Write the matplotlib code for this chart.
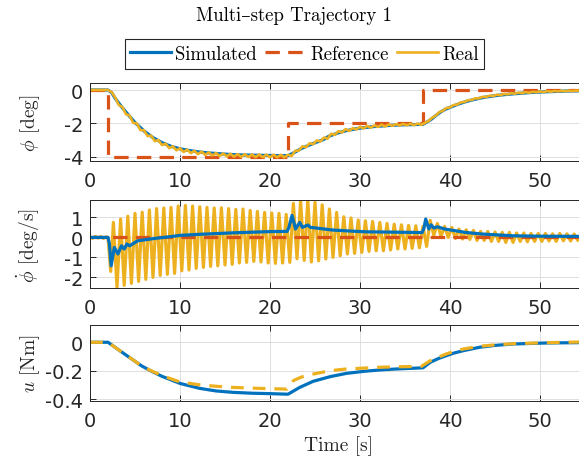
import numpy as np
import matplotlib
matplotlib.use("Agg")
import matplotlib.pyplot as plt
from matplotlib.lines import Line2D

plt.rcParams["mathtext.fontset"] = "cm"
plt.rcParams["axes.unicode_minus"] = False
plt.rcParams["font.family"] = "DejaVu Sans"

SERIF = ["cmr10", "DejaVu Serif"]
C_SIM = "#0072BD"
C_REF = "#D95319"
C_REAL = "#EDB120"
INK = "#262626"

# ---------------- roll angle phi [deg] ----------------
ref_t = [0, 2, 2, 22, 22, 37, 37, 55]
ref_phi = [0, 0, -4, -4, -2, -2, 0, 0]

sim_phi_t = [0, 2.0, 2.4, 2.8, 3.5, 4.2, 5.0, 6.0, 7.0, 8.0, 9.0, 10.0, 11.0, 12.0,
             13.0, 14.0, 15.0, 16.0, 17.0, 18.0, 19.0, 20.0, 21.0, 22.0,
             22.5, 23.0, 23.5, 24.0, 24.5, 25.0, 25.5, 26.0, 26.5, 27.0, 27.5,
             28.0, 28.5, 29.0, 29.5, 30.0, 30.5, 31.0, 31.5, 32.0, 33.0, 34.0,
             35.0, 36.0, 37.0, 37.5, 38.0, 38.5, 39.0, 39.5, 40.0, 40.5, 41.0,
             41.5, 42.0, 42.5, 43.0, 43.5, 44.0, 44.5, 45.0, 46.0, 47.0, 48.0,
             49.0, 50.0, 51.0, 52.0, 53.0, 54.0, 55.0]
sim_phi = [0, 0, -0.15, -0.5, -1.0, -1.45, -1.95, -2.45, -2.85, -3.15, -3.37, -3.52,
           -3.62, -3.7, -3.76, -3.8, -3.84, -3.87, -3.89, -3.9, -3.91, -3.92, -3.93,
           -3.93, -3.8, -3.65, -3.5, -3.38, -3.27, -3.16, -3.06, -2.95, -2.78,
           -2.68, -2.58, -2.5, -2.43, -2.38, -2.33, -2.28, -2.25, -2.22, -2.19,
           -2.17, -2.13, -2.1, -2.08, -2.07, -2.05, -1.9, -1.72, -1.5, -1.3,
           -1.15, -1.04, -0.93, -0.83, -0.74, -0.66, -0.59, -0.53, -0.47, -0.42,
           -0.38, -0.34, -0.28, -0.23, -0.19, -0.15, -0.12, -0.1, -0.08, -0.06,
           -0.05, -0.04]

# measured oscillation: one cycle every 0.8 s starting at t = 2.6 s
cycle_t = np.arange(66) * 0.8 + 2.6

real_phi_pre_t = [0, 2.0, 2.4]
real_phi_pre = [0, 0, -0.12]
real_phi_max = [-0.45, -1.02, -1.53, -2.0, -2.41, -2.73, -3.0, -3.21, -3.37, -3.49,
                -3.57, -3.64, -3.69, -3.74, -3.77, -3.8, -3.82, -3.84, -3.85, -3.86,
                -3.86, -3.87, -3.87, -3.88, -3.88, -3.64, -3.37, -3.19, -3.02, -2.85,
                -2.62, -2.47, -2.34, -2.28, -2.2, -2.15, -2.12, -2.08, -2.06, -2.04,
                -2.03, -2.02, -2.01, -1.97, -1.67, -1.33, -1.08, -0.9, -0.74, -0.61,
                -0.5, -0.41, -0.34, -0.28, -0.23, -0.19, -0.16, -0.13, -0.11, -0.09,
                -0.07, -0.06, -0.05, -0.04, -0.03, -0.02]
real_phi_min = [-0.9, -1.45, -1.97, -2.4, -2.76, -3.06, -3.3, -3.48, -3.61, -3.71,
                -3.78, -3.84, -3.88, -3.92, -3.95, -3.97, -3.99, -4.0, -4.01, -4.02,
                -4.02, -4.03, -4.03, -4.03, -3.95, -3.63, -3.42, -3.24, -3.08, -2.91,
                -2.68, -2.54, -2.45, -2.36, -2.3, -2.25, -2.21, -2.18, -2.14, -2.12,
                -2.11, -2.1, -2.08, -1.86, -1.54, -1.24, -1.04, -0.87, -0.72, -0.6,
                -0.5, -0.42, -0.36, -0.31, -0.26, -0.22, -0.19, -0.16, -0.13, -0.12,
                -0.1, -0.08, -0.07, -0.06, -0.05, -0.04]

# ---------------- roll rate phi_dot [deg/s] ----------------
ref_dphi_t = [0, 55]
ref_dphi = [0, 0]

sim_dphi_t = [0, 2.0, 2.15, 2.35, 2.7, 3.1, 3.5, 3.8, 4.1, 4.4, 5.3, 7.2, 9.0, 10.0,
              12.0, 14.0, 16.0, 18.0, 20.0, 21.9, 22.1, 22.45, 22.84, 23.3, 23.6,
              24.2, 24.5, 25.1, 26.9, 28.8, 30.6, 35.8, 36.9, 37.1, 37.3, 37.65,
              37.9, 38.2, 38.6, 39.4, 41.7, 43.5, 47.0, 50.0, 55.0]
sim_dphi = [0, 0, -0.3, -1.42, -0.5, -0.83, -0.42, -0.58, -0.33, -0.42, -0.17, -0.05,
            0.04, 0.1, 0.15, 0.19, 0.23, 0.26, 0.29, 0.3, 0.5, 1.1, 0.42, 0.75, 0.5,
            0.62, 0.5, 0.47, 0.37, 0.32, 0.28, 0.25, 0.24, 0.45, 0.92, 0.42, 0.63,
            0.47, 0.53, 0.42, 0.25, 0.17, 0.08, 0.06, 0.05]

real_dphi_pre_t = [0, 0.3, 0.6, 0.9, 1.2, 1.5, 1.8, 2.0, 2.3]
real_dphi_pre = [0.02, -0.04, 0.05, -0.03, 0.04, -0.05, 0.03, 0.0, -1.7]
real_dphi_hi = [0.75, 0.92, 1.06, 1.2, 1.26, 1.37, 1.44, 1.47, 1.5, 1.57,
                1.6, 1.57, 1.53, 1.5, 1.47, 1.48, 1.44, 1.4, 1.42, 1.35,
                1.3, 1.25, 1.22, 1.2, 1.15, 1.7, 1.83, 1.87, 1.75, 1.63,
                1.42, 1.25, 1.03, 0.97, 0.87, 0.83, 0.8, 0.75, 0.7, 0.66,
                0.63, 0.6, 0.58, 0.55, 0.85, 0.7, 0.55, 0.5, 0.42, 0.38,
                0.35, 0.3, 0.3, 0.27, 0.25, 0.25, 0.22, 0.22, 0.2, 0.2,
                0.2, 0.18, 0.2, 0.18, 0.17, 0.18]
real_dphi_lo = [-2.5, -2.4, -2.3, -2.2, -2.1, -2.0, -1.9, -1.85, -1.8, -1.67,
                -1.63, -1.55, -1.5, -1.45, -1.42, -1.38, -1.35, -1.28, -1.25, -1.2,
                -1.23, -1.28, -1.3, -1.28, -1.25, -1.07, -1.15, -1.23, -1.17, -1.08,
                -1.0, -0.92, -0.83, -0.8, -0.75, -0.7, -0.67, -0.67, -0.63, -0.58,
                -0.58, -0.55, -0.52, -0.45, 0.1, 0.05, 0.0, -0.05, -0.08, -0.1,
                -0.15, -0.15, -0.2, -0.2, -0.25, -0.25, -0.2, -0.22, -0.2, -0.2,
                -0.18, -0.2, -0.17, -0.18, -0.15, -0.17]

# ---------------- control torque u [Nm] ----------------
sim_u_t = [0, 2.0, 3.0, 4.0, 4.8, 5.7, 6.7, 8.0, 10.0, 12.2, 14.0, 15.9, 18.0, 20.0,
           22.0, 23.3, 24.8, 26.7, 28.5, 30.4, 32.2, 34.1, 37.0, 37.8, 38.7, 39.6,
           40.5, 41.5, 43.3, 45.0, 47.0, 50.7, 55.0]
sim_u = [0, 0, -0.045, -0.09, -0.125, -0.165, -0.2, -0.24, -0.29, -0.325, -0.343,
         -0.353, -0.359, -0.362, -0.366, -0.318, -0.275, -0.242, -0.219, -0.205,
         -0.195, -0.188, -0.18, -0.141, -0.115, -0.094, -0.075, -0.059, -0.035,
         -0.022, -0.012, -0.005, -0.002]

real_u_t = [0, 2.0, 3.0, 4.0, 4.8, 5.7, 6.7, 8.0, 10.0, 12.2, 14.0, 15.9, 18.0, 20.0,
            21.9, 22.6, 23.5, 24.8, 26.7, 28.5, 30.4, 32.2, 34.0, 36.8, 37.8, 38.7,
            39.6, 40.5, 41.5, 43.3, 45.0, 47.0, 50.7, 55.0]
real_u = [0, 0, -0.045, -0.09, -0.125, -0.165, -0.198, -0.235, -0.28, -0.3, -0.31,
          -0.318, -0.323, -0.327, -0.33, -0.27, -0.245, -0.224, -0.2, -0.188, -0.182,
          -0.176, -0.173, -0.17, -0.13, -0.105, -0.082, -0.063, -0.047, -0.028,
          -0.018, -0.01, -0.003, 0.003]


def zigzag(pre_t, pre_v, t_a, v_a, t_b, v_b):
    """Join a lead-in segment with alternating extrema (a at t_a, b at t_b)."""
    t = list(pre_t)
    v = list(pre_v)
    for ta, va, tb, vb in zip(t_a, v_a, t_b, v_b):
        t += [ta, tb]
        v += [va, vb]
    return np.array(t), np.array(v)


real_phi_t, real_phi = zigzag(real_phi_pre_t, real_phi_pre,
                              cycle_t + 0.2, real_phi_max, cycle_t + 0.6, real_phi_min)
real_dphi_t, real_dphi = zigzag(real_dphi_pre_t, real_dphi_pre,
                                cycle_t, real_dphi_hi, cycle_t + 0.4, real_dphi_lo)

W, H = 579, 464
fig = plt.figure(figsize=(W / 100, H / 100), dpi=100)


def px_axes(left, top, right, bottom):
    return fig.add_axes([left / W, 1 - bottom / H, (right - left) / W, (bottom - top) / H])


ax1 = px_axes(90, 83.5, 585, 162)
ax2 = px_axes(90, 201, 585, 289)
ax3 = px_axes(90, 325.7, 585, 402.3)

dash = (4.5, 2.6)
lw_main = 2.3

# phi
ax1.plot(sim_phi_t, sim_phi, color=C_SIM, lw=lw_main)
ax1.plot(ref_t, ref_phi, color=C_REF, lw=lw_main, dashes=dash)
ax1.plot(real_phi_t, real_phi, color=C_REAL, lw=1.9)

# phi_dot
ax2.plot(real_dphi_t, real_dphi, color=C_REAL, lw=2.3)
ax2.plot(ref_dphi_t, ref_dphi, color=C_REF, lw=lw_main, dashes=dash)
ax2.plot(sim_dphi_t, sim_dphi, color=C_SIM, lw=lw_main)

# u
ax3.plot(sim_u_t, sim_u, color=C_SIM, lw=lw_main)
ax3.plot(real_u_t, real_u, color=C_REAL, lw=lw_main, dashes=(4.0, 2.8))

ax1.set_ylim(-4.25, 0.45)
ax1.set_yticks([-4, -2, 0])
ax2.set_ylim(-2.53, 1.87)
ax2.set_yticks([-2, -1, 0, 1])
ax3.set_ylim(-0.416, 0.124)
ax3.set_yticks([-0.4, -0.2, 0])
ax3.set_yticklabels(["-0.4", "-0.2", "0"])

for ax in (ax1, ax2, ax3):
    ax.set_xlim(0, 55)
    ax.set_xticks([0, 10, 20, 30, 40, 50])
    ax.grid(True, color="#dedede", lw=0.7)
    ax.set_axisbelow(True)
    for s in ax.spines.values():
        s.set_color(INK)
        s.set_linewidth(0.7)
    ax.tick_params(direction="in", top=True, right=True, length=4, width=0.7,
                   color=INK, labelcolor=INK, labelsize=14)
    ax.tick_params(axis="x", pad=7)
    ax.tick_params(axis="y", pad=5)
    ax.set_facecolor("white")

ax1.set_ylabel(r"$\phi$ [deg]", fontfamily=SERIF, fontsize=14, color=INK)
ax2.set_ylabel(r"$\dot{\phi}$ [deg/s]", fontfamily=SERIF, fontsize=14, color=INK)
ax3.set_ylabel(r"$u$ [Nm]", fontfamily=SERIF, fontsize=14, color=INK)
for ax in (ax1, ax2, ax3):
    ax.yaxis.set_label_coords(-0.096, 0.5)

fig.text(338 / W, 1 - 446 / H, "Time [s]", family=SERIF, fontsize=14, color=INK,
         ha="center", va="center")
fig.text(294 / W, 1 - 16 / H, "Multi–step Trajectory 1", family=SERIF, fontsize=13.5,
         color="black", ha="center", va="center")

handles = [Line2D([], [], color=C_SIM, lw=lw_main),
           Line2D([], [], color=C_REF, lw=lw_main, dashes=dash),
           Line2D([], [], color=C_REAL, lw=1.9)]
leg = fig.legend(handles, ["Simulated", "Reference", "Real"], loc="center",
                 bbox_to_anchor=(304.5 / W, 1 - 55 / H), ncol=3,
                 prop={"family": SERIF, "size": 13.5}, frameon=True, fancybox=False,
                 edgecolor=INK, framealpha=1, handlelength=2.2, handletextpad=0.2,
                 columnspacing=0.45, borderpad=0.3, borderaxespad=0)
leg.get_frame().set_linewidth(0.8)

fig.savefig("out.png", dpi=100)
